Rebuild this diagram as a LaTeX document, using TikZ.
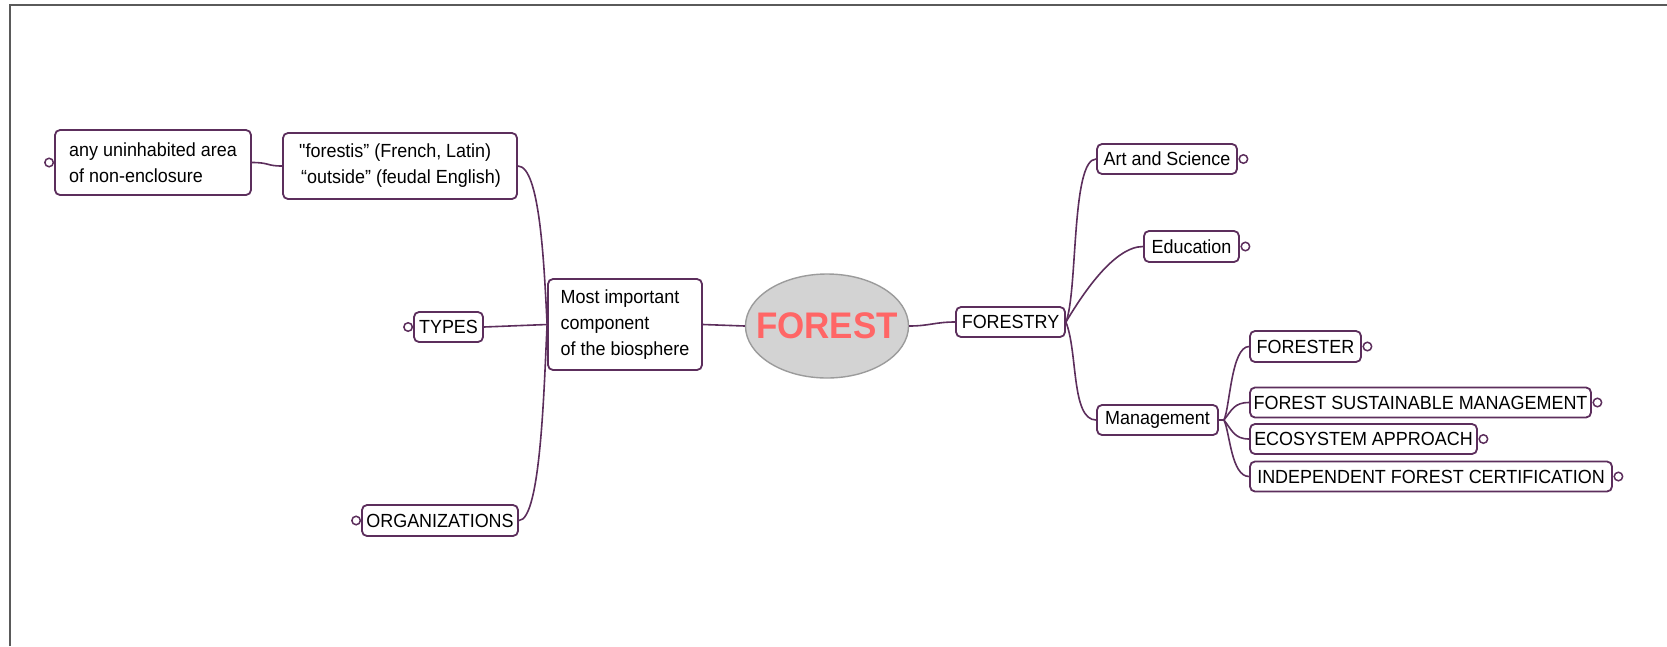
\documentclass[tikz,border=0pt]{standalone}
\usepackage{fontspec}
\setmainfont[FakeStretch=0.945, Ligatures=TeXOff]{Liberation Sans}
\usetikzlibrary{shapes.geometric}
\definecolor{purp}{RGB}{92,46,92}
\definecolor{forestred}{RGB}{255,102,102}
\definecolor{ellfill}{RGB}{211,211,211}
\definecolor{ellline}{RGB}{155,155,155}
\definecolor{framec}{RGB}{90,90,90}
\begin{document}
\begin{tikzpicture}[x=1pt,y=-1pt,
 mmbox/.style={draw=purp, line width=1.8pt, rounded corners=5pt, fill=white, inner sep=0pt, font=\fontsize{19}{26}\selectfont, align=left},
 conn/.style={draw=purp, line width=1.6pt},
 knob/.style={circle, draw=purp, line width=1.5pt, fill=white, minimum size=8.5pt, inner sep=0pt}]
\useasboundingbox (0,0) rectangle (1667,646);
\draw[framec, line width=1.5pt] (10,646) -- (10,5) -- (1667,5);

% nodes
\node[mmbox, minimum width=196pt, minimum height=65pt] (any) at (153,162.5) {any uninhabited area\\of non-enclosure};
\node[mmbox, minimum width=234pt, minimum height=66pt] (etym) at (400,166) {"forestis” (French, Latin)\\\hspace{2pt}“outside” (feudal English)};
\node[mmbox, minimum width=69pt, minimum height=30pt] (types) at (448.5,327) {TYPES};
\node[mmbox, minimum width=156pt, minimum height=31pt] (orgs) at (440,520.5) {ORGANIZATIONS};
\node[mmbox, minimum width=154pt, minimum height=91pt] (most) at (625,324.5) {Most important\\component\\of the biosphere};
\node[ellipse, draw=ellline, fill=ellfill, line width=1.4pt, minimum width=163pt, minimum height=104pt, inner sep=0pt, text=forestred, font=\fontsize{37}{40}\selectfont\bfseries] (forest) at (827,326) {\makebox[0pt]{FOREST}};
\node[mmbox, minimum width=109pt, minimum height=30pt] (forestry) at (1010.5,322) {FORESTRY};
\node[mmbox, minimum width=140pt, minimum height=30pt] (art) at (1167,159) {Art and Science};
\node[mmbox, minimum width=95pt, minimum height=31pt] (edu) at (1191.5,246.5) {Education};
\node[mmbox, minimum width=121pt, minimum height=30pt] (mgmt) at (1157.5,420) {Management};
\node[mmbox, minimum width=111pt, minimum height=31pt] (forester) at (1305.5,346.5) {FORESTER};
\node[mmbox, minimum width=341pt, minimum height=30pt] (fsm) at (1420.5,402.5) {FOREST SUSTAINABLE MANAGEMENT};
\node[mmbox, minimum width=227pt, minimum height=30pt] (eco) at (1363.5,439) {ECOSYSTEM APPROACH};
\node[mmbox, minimum width=362pt, minimum height=30pt] (ifc) at (1431,476.5) {INDEPENDENT FOREST CERTIFICATION};

% collapse knobs
\node[knob] (kany) at ([xshift=-5pt]any.west) {};
\node[knob] (ktypes) at ([xshift=-5pt]types.west) {};
\node[knob] (korgs) at ([xshift=-5pt]orgs.west) {};
\node[knob] (kart) at ([xshift=5.5pt]art.east) {};
\node[knob] (kedu) at ([xshift=5.5pt]edu.east) {};
\node[knob] (kforester) at ([xshift=5.5pt]forester.east) {};
\node[knob] (kfsm) at ([xshift=5.5pt]fsm.east) {};
\node[knob] (keco) at ([xshift=5.5pt]eco.east) {};
\node[knob] (kifc) at ([xshift=5.5pt]ifc.east) {};

% junctions
\coordinate (jl) at (most.west);
\coordinate (jm) at ([xshift=5pt]mgmt.east);

% connectors
\draw[conn] (any.east) .. controls +(18,0) and +(-16,0) .. (etym.west);
\draw[conn] (etym.east) .. controls +(22,0) and +(-3,-60) .. (jl);
\draw[conn] (orgs.east) .. controls +(22,0) and +(-3,60) .. (jl);
\draw[conn] (types.east) -- (jl);
\draw[conn] (most.east) -- (forest.west);
\draw[conn] (forest.east) .. controls +(20,0) and +(-20,0) .. (forestry.west);
\draw[conn] (forestry.east) .. controls +(12,-30) and +(-25,0) .. (art.west);
\draw[conn] (forestry.east) .. controls +(15,-25) and +(-30,0) .. (edu.west);
\draw[conn] (forestry.east) .. controls +(12,30) and +(-25,0) .. (mgmt.west);
\draw[conn] (mgmt.east) -- (jm);
\draw[conn] (jm) .. controls +(6,-12) and +(-18,0) .. (forester.west);
\draw[conn] (jm) .. controls +(8,-10) and +(-15,0) .. (fsm.west);
\draw[conn] (jm) .. controls +(8,10) and +(-15,0) .. (eco.west);
\draw[conn] (jm) .. controls +(6,12) and +(-18,0) .. (ifc.west);
\end{tikzpicture}
\end{document}
